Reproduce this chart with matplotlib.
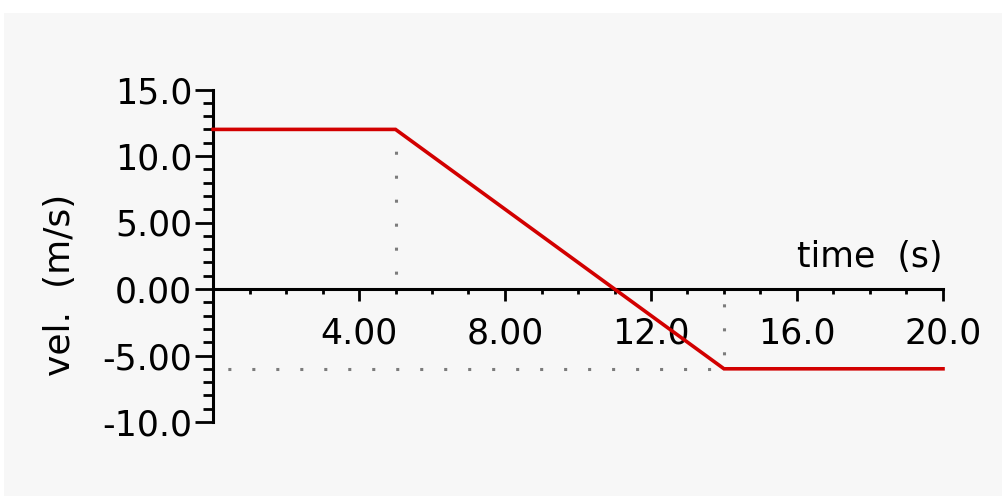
#-*- coding: utf-8 -*-
# velocity vs time graph (piecewise), old-style physics plot
import matplotlib
matplotlib.use('Agg')
import matplotlib.pyplot as plt
from matplotlib.patches import Rectangle
from matplotlib.ticker import MultipleLocator, FixedLocator, FixedFormatter

# data
t = [0, 5, 14, 20]          # time (s)
v = [12, 12, -6, -6]        # velocity (m/s)
xticks = [4, 8, 12, 16, 20]
xlabels = ['4.00', '8.00', '12.0', '16.0', '20.0']
yticks = [-10, -5, 0, 5, 10, 15]
ylabels = ['-10.0', '-5.00', '0.00', '5.00', '10.0', '15.0']

plt.rcParams['font.family'] = ['DejaVu Sans']
W, H = 1003, 496
fig = plt.figure(figsize=(W / 100, H / 100), dpi=100, facecolor='white')

# light grey panel behind everything
fig.patches.append(Rectangle((4 / W, 0), 1 - 4 / W, 1 - 13 / H, transform=fig.transFigure,
                             facecolor='#f7f7f7', edgecolor='none', zorder=-10))

ax = fig.add_axes([213 / W, 1 - 422 / H, 730 / W, 332.5 / H])
ax.set_zorder(5)
ax.patch.set_visible(False)
ax.set_xlim(0, 20)
ax.set_ylim(-10, 15)

# axes through the origin
ax.spines['top'].set_visible(False)
ax.spines['right'].set_visible(False)
ax.spines['bottom'].set_position(('data', 0))
for s in ('left', 'bottom'):
    ax.spines[s].set_linewidth(2.2)
    ax.spines[s].set_color('black')

# dotted guide lines (grey dots every ~24 px)
dots = dict(color='#7c7c7c', lw=2.2, linestyle=(3, (1.0, 6.85)), dash_capstyle='butt', zorder=2)
ax.plot([t[1], t[1]], [0, v[1]], **dots)
ax.plot([t[2], t[2]], [0, v[2]], **dots)
ax.plot([0, t[2]], [v[2], v[2]], **dots)

# velocity line
ax.plot(t, v, color='#d20000', lw=2.6, zorder=3, clip_on=False, solid_joinstyle='miter')

ax.xaxis.set_major_locator(FixedLocator(xticks))
ax.xaxis.set_major_formatter(FixedFormatter(xlabels))
ax.xaxis.set_minor_locator(MultipleLocator(1))
ax.yaxis.set_major_locator(FixedLocator(yticks))
ax.yaxis.set_major_formatter(FixedFormatter(ylabels))
ax.yaxis.set_minor_locator(MultipleLocator(1))

ax.tick_params(axis='x', which='major', direction='out', length=8.6, width=2, pad=11, labelsize=25)
ax.tick_params(axis='x', which='minor', direction='out', length=3.6, width=2)
ax.tick_params(axis='y', which='major', direction='out', length=13, width=2, pad=2, labelsize=25)
ax.tick_params(axis='y', which='minor', direction='out', length=7, width=2)

# axis titles
ax.annotate('time  (s)', xy=(20, 0), xytext=(0, 11), textcoords='offset points',
            ha='right', va='bottom', fontsize=25)
fig.text(60 / W, 1 - 285 / H, 'vel.  (m/s)', rotation=90, ha='center', va='center', fontsize=26)

fig.savefig('out.png', dpi=100, facecolor='white')
